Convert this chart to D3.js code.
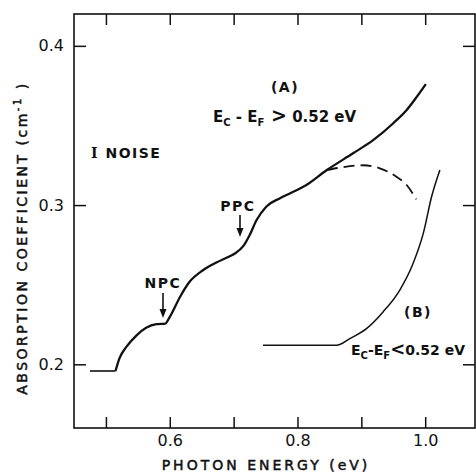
<!DOCTYPE html>
<html>
<head>
<meta charset="utf-8">
<script src="https://cdn.jsdelivr.net/npm/d3@7"></script>
<style>
  body { margin: 0; background: #fff; }
  svg { display: block; }
  text { font-family: "DejaVu Sans", sans-serif; fill: #111; }
  .axis path { display: none; }
  .axis line { stroke: #111; stroke-width: 1.5; }
  .axis text { font-size: 16px; fill: #111; font-family: "DejaVu Sans", sans-serif; }
  .title { stroke: #111; stroke-width: 0.5px; }
</style>
</head>
<body>
<script>
//photon energy (eV) / absorption coefficient (cm^-1)
var curveAx = [0.475, 0.515, 0.521, 0.532, 0.548, 0.563, 0.579, 0.593, 0.600, 0.616, 0.631, 0.652, 0.673, 0.694, 0.702, 0.715, 0.725, 0.736, 0.751, 0.772, 0.788, 0.814, 0.846, 0.887, 0.919, 0.950, 0.971, 0.987, 1.001];
var curveAy = [0.1958, 0.1958, 0.2036, 0.2109, 0.2182, 0.2229, 0.2252, 0.2256, 0.2298, 0.2423, 0.2518, 0.2591, 0.2639, 0.2679, 0.2696, 0.2742, 0.2811, 0.2906, 0.2990, 0.3042, 0.3073, 0.3126, 0.3220, 0.3325, 0.3409, 0.3514, 0.3597, 0.3681, 0.3760];
var dashX = [0.846, 0.871, 0.903, 0.929, 0.955, 0.971, 0.986];
var dashY = [0.3220, 0.3238, 0.3250, 0.3231, 0.3178, 0.3126, 0.3036];
var curveBx = [0.746, 0.861, 0.882, 0.908, 0.934, 0.960, 0.981, 0.997, 1.010, 1.023];
var curveBy = [0.2119, 0.2119, 0.2161, 0.2224, 0.2329, 0.2465, 0.2633, 0.2822, 0.3052, 0.3220];

var xTicks = [0.5, 0.6, 0.7, 0.8, 0.9, 1.0];
var xLabels = ["", "0.6", "", "0.8", "", "1.0"];
var yTicks = [0.2, 0.3, 0.4];
var yLabels = ["0.2", "0.3", "0.4"];

(function(){
  var width = 476, height = 473;
  var mLeft = 74, mRight = 475, mTop = 14, mBottom = 428;

  var svg = d3.select("body").append("svg")
      .attr("width", width)
      .attr("height", height);

  var x = d3.scaleLinear().domain([0.45, 1.078]).range([mLeft, mRight]);
  var y = d3.scaleLinear().domain([0.16, 0.42]).range([mBottom, mTop]);

  //frame
  svg.append("rect")
      .attr("x", mLeft).attr("y", mTop)
      .attr("width", mRight - mLeft).attr("height", mBottom - mTop)
      .attr("fill", "none").attr("stroke", "#111").attr("stroke-width", 1.6);

  //axes, ticks pointing inward
  svg.append("g").attr("class", "axis")
      .attr("transform", "translate(0," + mBottom + ")")
      .call(d3.axisBottom(x).tickValues(xTicks).tickSize(-11).tickPadding(7)
          .tickFormat(function(d, i){ return xLabels[i]; }));

  svg.append("g").attr("class", "axis")
      .attr("transform", "translate(0," + mTop + ")")
      .call(d3.axisTop(x).tickValues(xTicks).tickSize(-11).tickFormat(""));

  svg.append("g").attr("class", "axis")
      .attr("transform", "translate(" + mLeft + ",0)")
      .call(d3.axisLeft(y).tickValues(yTicks).tickSize(-12).tickPadding(10)
          .tickFormat(function(d, i){ return yLabels[i]; }));

  svg.append("g").attr("class", "axis")
      .attr("transform", "translate(" + mRight + ",0)")
      .call(d3.axisRight(y).tickValues(yTicks).tickSize(-12).tickFormat(""));

  //axis titles
  svg.append("text")
      .attr("class", "title")
      .attr("x", 266).attr("y", 470)
      .attr("text-anchor", "middle")
      .style("font-size", "14px").style("letter-spacing", "3px")
      .text("PHOTON  ENERGY  (eV)");

  var yTitle = svg.append("text")
      .attr("class", "title")
      .attr("transform", "translate(27,238) rotate(-90)")
      .attr("text-anchor", "middle")
      .style("font-size", "14px").style("letter-spacing", "2.5px");
  yTitle.append("tspan").text("ABSORPTION   COEFFICIENT    (cm");
  yTitle.append("tspan").attr("dy", -6).style("font-size", "10px").text("-1");
  yTitle.append("tspan").attr("dy", 6).text(" )");

  //curves
  var line = d3.line()
      .x(function(d){ return x(d[0]); })
      .y(function(d){ return y(d[1]); })
      .curve(d3.curveMonotoneX);

  var dataA = curveAx.map(function(v, i){ return [v, curveAy[i]]; });
  var dataDash = dashX.map(function(v, i){ return [v, dashY[i]]; });
  var dataB = curveBx.map(function(v, i){ return [v, curveBy[i]]; });

  svg.append("path").datum([dataA[0], dataA[1]])
      .attr("d", d3.line().x(function(d){ return x(d[0]); }).y(function(d){ return y(d[1]); }))
      .attr("fill", "none").attr("stroke", "#111").attr("stroke-width", 1.6);
  svg.append("path").datum(dataA.slice(1))
      .attr("d", line)
      .attr("fill", "none").attr("stroke", "#111").attr("stroke-width", 2.3);
  svg.append("path").datum(dataDash)
      .attr("d", line)
      .attr("fill", "none").attr("stroke", "#111").attr("stroke-width", 1.8)
      .attr("stroke-dasharray", "11,6");
  svg.append("path").datum(dataB)
      .attr("d", line)
      .attr("fill", "none").attr("stroke", "#111").attr("stroke-width", 1.5);

  //annotations
  function label(tx, ty, str, anchor){
      return svg.append("text")
          .attr("x", tx).attr("y", ty)
          .attr("text-anchor", anchor || "start")
          .style("font-size", "14px").style("letter-spacing", "1.5px")
          .style("font-weight", "bold")
          .text(str);
  }
  label(285, 92, "(A)", "middle");
  var noise = label(91, 158, "");
  noise.append("tspan").style("font-family", "DejaVu Serif, serif").text("I");
  noise.append("tspan").text("  NOISE");
  label(238, 211, "PPC", "middle");
  label(163, 288, "NPC", "middle");
  label(418, 317, "(B)", "middle");

  function energyLabel(tx, ty, parts, fs){
      var t = svg.append("text")
          .attr("x", tx).attr("y", ty)
          .style("font-size", fs + "px").style("font-weight", "bold");
      t.append("tspan").text("E");
      t.append("tspan").attr("dy", 4).style("font-size", "10px").text("C");
      t.append("tspan").attr("dy", -4).text(parts[0]);
      t.append("tspan").attr("dy", 4).style("font-size", "10px").text("F");
      t.append("tspan").attr("dy", -4).style("font-size", (fs + 4) + "px").text(parts[1]);
      t.append("tspan").text(parts[2]);
  }
  energyLabel(213, 122, [" - E", " >", " 0.52 eV"], 15);
  energyLabel(351, 355, ["-E", "<", "0.52 eV"], 14);

  //arrows
  function arrow(ax, y1, y2){
      svg.append("line")
          .attr("x1", ax).attr("x2", ax).attr("y1", y1).attr("y2", y2 - 6)
          .attr("stroke", "#111").attr("stroke-width", 1.6);
      svg.append("path")
          .attr("d", "M" + (ax - 3.5) + "," + (y2 - 9) + " L" + ax + "," + y2 + " L" + (ax + 3.5) + "," + (y2 - 9) + " Z")
          .attr("fill", "#111");
  }
  arrow(163, 293, 318);
  arrow(240, 215, 237);
})();
</script>
</body>
</html>
